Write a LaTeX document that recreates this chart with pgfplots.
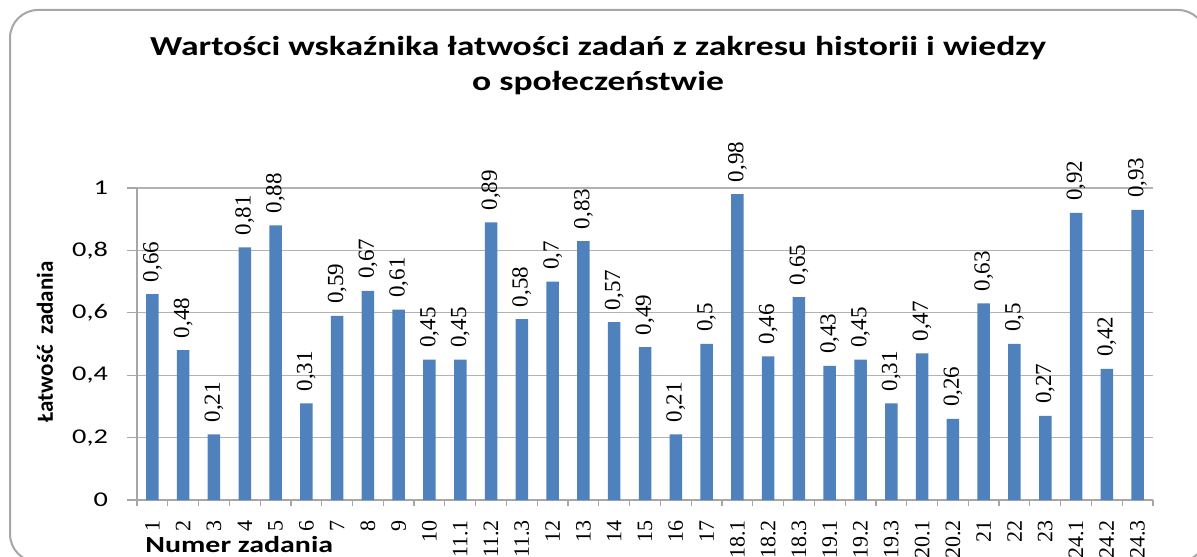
\documentclass[border=0pt]{standalone}
\usepackage{fontspec}
\setmainfont{Liberation Serif}
\newfontfamily\carl[FakeStretch=1.3]{Carlito}
\newfontfamily\carlwide[FakeStretch=1.35]{Carlito}
\newfontfamily\carlplain{Carlito}
\usepackage{pgfplots}
\pgfplotsset{compat=1.18}
\definecolor{barblue}{HTML}{4F81BD}
\begin{document}
\begin{tikzpicture}
\useasboundingbox (0,0) rectangle (598.5pt,278pt);
\draw[gray!70, line width=1pt, rounded corners=14pt] (5pt,-3pt) rectangle (603pt,273pt);
\node[font=\carl\bfseries\fontsize{13.7}{17.5}\selectfont, align=center] at (299pt,245pt) {Wartości wskaźnika łatwości zadań z zakresu historii i wiedzy\\o społeczeństwie};
\begin{axis}[at={(68.5pt,28pt)}, anchor=south west, scale only axis,
  width=508pt, height=156pt,
  ymin=0, ymax=1, xmin=-0.5, xmax=32.5,
  ybar, bar width=6.25pt,
  axis x line=bottom, axis y line=left,
  axis line style={-, draw=gray!70, line width=0.6pt},
  ytick={0,0.2,0.4,0.6,0.8,1},
  ymajorgrids, grid style={gray!60, line width=0.6pt},
  xtick=data,
  xticklabels={1,2,3,4,5,6,7,8,9,10,11.1,11.2,11.3,12,13,14,15,16,17,18.1,18.2,18.3,19.1,19.2,19.3,20.1,20.2,21,22,23,24.1,24.2,24.3},
  minor xtick={-0.5,0.5,...,32.5},
  x tick style={draw=none},
  minor x tick style={draw=gray!70, line width=0.6pt},
  minor tick length=3pt,
  y tick style={draw=gray!70, line width=0.6pt},
  major tick length=5pt,
  tick align=outside,
  xtick pos=bottom, ytick pos=left,
  /pgf/number format/.cd, use comma, assume math mode=true, /pgfplots/.cd,
  yticklabel style={font=\carlwide\fontsize{10.5}{11}\selectfont, anchor=east, inner sep=0pt, outer xsep=9.5pt},
  xticklabel style={font=\fontsize{11}{12}\selectfont, rotate=90, anchor=east, inner sep=0pt, outer xsep=5pt},
  nodes near coords,
  every node near coord/.append style={font=\fontsize{11.5}{12}\selectfont, rotate=90, anchor=west, inner sep=0pt, outer xsep=6pt, black},
]
\addplot[fill=barblue, draw=none] coordinates {
(0,0.66) (1,0.48) (2,0.21) (3,0.81) (4,0.88) (5,0.31) (6,0.59) (7,0.67) (8,0.61) (9,0.45) (10,0.45)
(11,0.89) (12,0.58) (13,0.7) (14,0.83) (15,0.57) (16,0.49) (17,0.21) (18,0.5) (19,0.98) (20,0.46)
(21,0.65) (22,0.43) (23,0.45) (24,0.31) (25,0.47) (26,0.26) (27,0.63) (28,0.5) (29,0.27) (30,0.92)
(31,0.42) (32,0.93)};
\end{axis}
\node[font=\carlplain\bfseries\fontsize{11.5}{12}\selectfont, rotate=90] at (22.5pt,107pt) {Łatwość\ \ zadania};
\node[font=\carl\bfseries\fontsize{11.5}{12}\selectfont, anchor=west, inner sep=0pt] at (72.5pt,5.5pt) {Numer zadania};
\end{tikzpicture}
\end{document}
